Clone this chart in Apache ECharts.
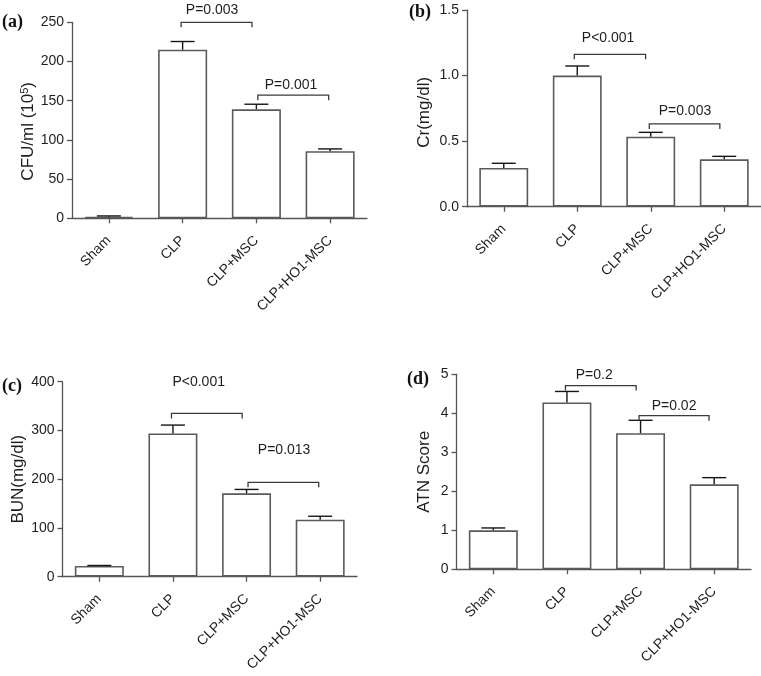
<!DOCTYPE html>
<html>
<head>
<meta charset="utf-8">
<script src="https://cdn.jsdelivr.net/npm/echarts@6/dist/echarts.min.js"></script>
<style>
html,body{margin:0;padding:0;background:#fff;}
#chart{width:761px;height:676px;}
</style>
</head>
<body>
<div id="chart"></div>
<script>
// ---- data ----
const categories = ['Sham', 'CLP', 'CLP+MSC', 'CLP+HO1-MSC'];

const cfuMean = [2, 215, 139, 85.5];
const cfuErr  = [1, 10.5, 6.5, 3];
const crMean  = [0.295, 1.0, 0.534, 0.361];
const crErr   = [0.036, 0.073, 0.033, 0.023];
const bunMean = [22, 294, 171, 117];
const bunErr  = [1, 17, 8, 7];
const atnMean = [1.0, 4.28, 3.49, 2.18];
const atnErr  = [0.06, 0.28, 0.33, 0.17];

// brackets: [fromPos, toPos, bracketY, label, textPos, textY]
const cfuBrackets = [[0.98, 1.94, 250, 'P=0.003', 1.40, 265.7], [2.02, 2.98, 157, 'P=0.001', 2.47, 170]];
const crBrackets  = [[0.96, 1.93, 1.162, 'P<0.001', 1.42, 1.285], [1.98, 2.94, 0.631, 'P=0.003', 2.465, 0.73]];
const bunBrackets = [[0.98, 1.94, 335, 'P<0.001', 1.35, 400], [2.02, 2.98, 193.6, 'P=0.013', 2.51, 260]];
const atnBrackets = [[0.98, 1.94, 4.71, 'P=0.2', 1.37, 4.98], [1.98, 2.93, 3.94, 'P=0.02', 2.455, 4.19]];

const panels = [
  { label: '(a)', mean: cfuMean, err: cfuErr, br: cfuBrackets, min: 0, max: 250, interval: 50, dec: 0,
    name: 'CFU/ml (10{sup|5})', nameGap: 35, namePad: [0, 22, 0, 0],
    grid: { left: 72, top: 22.3, width: 295, height: 196 }, lab: { left: 2, top: 13 } },
  { label: '(b)', mean: crMean, err: crErr, br: crBrackets, min: 0, max: 1.5, interval: 0.5, dec: 1,
    name: 'Cr(mg/dl)', nameGap: 34, namePad: [0, 8, 0, 0],
    grid: { left: 467, top: 10, width: 294, height: 196.7 }, lab: { left: 409, top: 3 } },
  { label: '(c)', mean: bunMean, err: bunErr, br: bunBrackets, min: 0, max: 400, interval: 100, dec: 0,
    name: 'BUN(mg/dl)', nameGap: 35, namePad: [0, 0, 0, 0],
    grid: { left: 62.5, top: 381.7, width: 294.5, height: 195 }, lab: { left: 2, top: 377 } },
  { label: '(d)', mean: atnMean, err: atnErr, br: atnBrackets, min: 0, max: 5, interval: 1, dec: 0,
    name: 'ATN Score', nameGap: 24, namePad: [0, 0, 0, 0],
    grid: { left: 456.5, top: 374.3, width: 294.5, height: 195 }, lab: { left: 407, top: 370 } }
];

const FONT = 'Liberation Sans, Arial, Helvetica, sans-serif';
const AXIS_COLOR = '#555';
const TEXT_COLOR = '#1e1e1e';

const option = {
  animation: false,
  backgroundColor: '#fff',
  title: panels.map(p => ({
    text: p.label, left: p.lab.left, top: p.lab.top, padding: 0,
    textStyle: { fontFamily: 'Liberation Serif, Times New Roman, serif', fontWeight: 'bold', fontSize: 18, color: '#111' }
  })),
  grid: panels.map(p => Object.assign({ containLabel: false }, p.grid)),
  xAxis: panels.map((p, k) => ({
    type: 'category', gridIndex: k, data: categories,
    axisLine: { show: true, lineStyle: { color: AXIS_COLOR, width: 1.3 } },
    axisTick: { show: true, alignWithLabel: true, length: 5, lineStyle: { color: AXIS_COLOR, width: 1.3 } },
    axisLabel: { rotate: 45, interval: 0, margin: 20, fontSize: 14, fontFamily: FONT, color: TEXT_COLOR },
    splitLine: { show: false }
  })),
  yAxis: panels.map((p, k) => ({
    type: 'value', gridIndex: k, min: p.min, max: p.max, interval: p.interval,
    axisLine: { show: true, lineStyle: { color: AXIS_COLOR, width: 1.3 } },
    axisTick: { show: true, length: 5, lineStyle: { color: AXIS_COLOR, width: 1.3 } },
    axisLabel: { margin: 8, fontSize: 14, fontFamily: FONT, color: TEXT_COLOR,
      formatter: v => v.toFixed(p.dec) },
    splitLine: { show: false },
    name: p.name, nameLocation: 'middle', nameGap: p.nameGap,
    nameTextStyle: { fontSize: 17, fontFamily: FONT, color: TEXT_COLOR, padding: p.namePad,
      rich: { sup: { fontSize: 11, fontFamily: FONT, color: TEXT_COLOR, verticalAlign: 'top', padding: [0, 0, 7, 0] } } }
  })),
  series: []
};

panels.forEach((p, k) => {
  option.series.push({
    type: 'bar', xAxisIndex: k, yAxisIndex: k, barWidth: '66.5%',
    data: p.mean,
    itemStyle: { color: '#fff', borderColor: '#5a5a5a', borderWidth: 1.6 },
    silent: true, z: 2
  });
  option.series.push({
    type: 'custom', xAxisIndex: k, yAxisIndex: k, clip: false, z: 3, silent: true,
    encode: { x: 0, y: 1 },
    data: p.mean.map((m, i) => [i, m, p.err[i]]),
    renderItem: (params, api) => {
      const i = api.value(0), m = api.value(1), e = api.value(2);
      const a = api.coord([i, m]), b = api.coord([i, m + e]);
      const st = { stroke: '#151515', lineWidth: 1.4 };
      return { type: 'group', children: [
        { type: 'line', shape: { x1: a[0], y1: a[1], x2: b[0], y2: b[1] }, style: st },
        { type: 'line', shape: { x1: b[0] - 12, y1: b[1], x2: b[0] + 12, y2: b[1] }, style: st }
      ] };
    }
  });
  option.series.push({
    type: 'custom', xAxisIndex: k, yAxisIndex: k, clip: false, z: 4, silent: true,
    encode: { x: 0, y: 1 },
    data: p.br.map(b => [1, b[2]]),
    renderItem: (params, api) => {
      const b = p.br[params.dataIndex];
      const c0 = api.coord([0, b[2]]), c1 = api.coord([1, b[2]]);
      const step = c1[0] - c0[0];
      const px = f => c0[0] + step * f;
      const y = c0[1];
      const ty = api.coord([0, b[5]])[1];
      const st = { stroke: '#3a3a3a', lineWidth: 1.3, fill: null };
      return { type: 'group', children: [
        { type: 'polyline', shape: { points: [[px(b[0]), y + 5], [px(b[0]), y], [px(b[1]), y], [px(b[1]), y + 5]] }, style: st },
        { type: 'text', style: { x: px(b[4]), y: ty, text: b[3], fill: TEXT_COLOR,
          font: '14px ' + FONT, align: 'center', verticalAlign: 'middle' } }
      ] };
    }
  });
});

const chart = echarts.init(document.getElementById('chart'), null, { renderer: 'canvas' });
chart.setOption(option);
</script>
</body>
</html>
